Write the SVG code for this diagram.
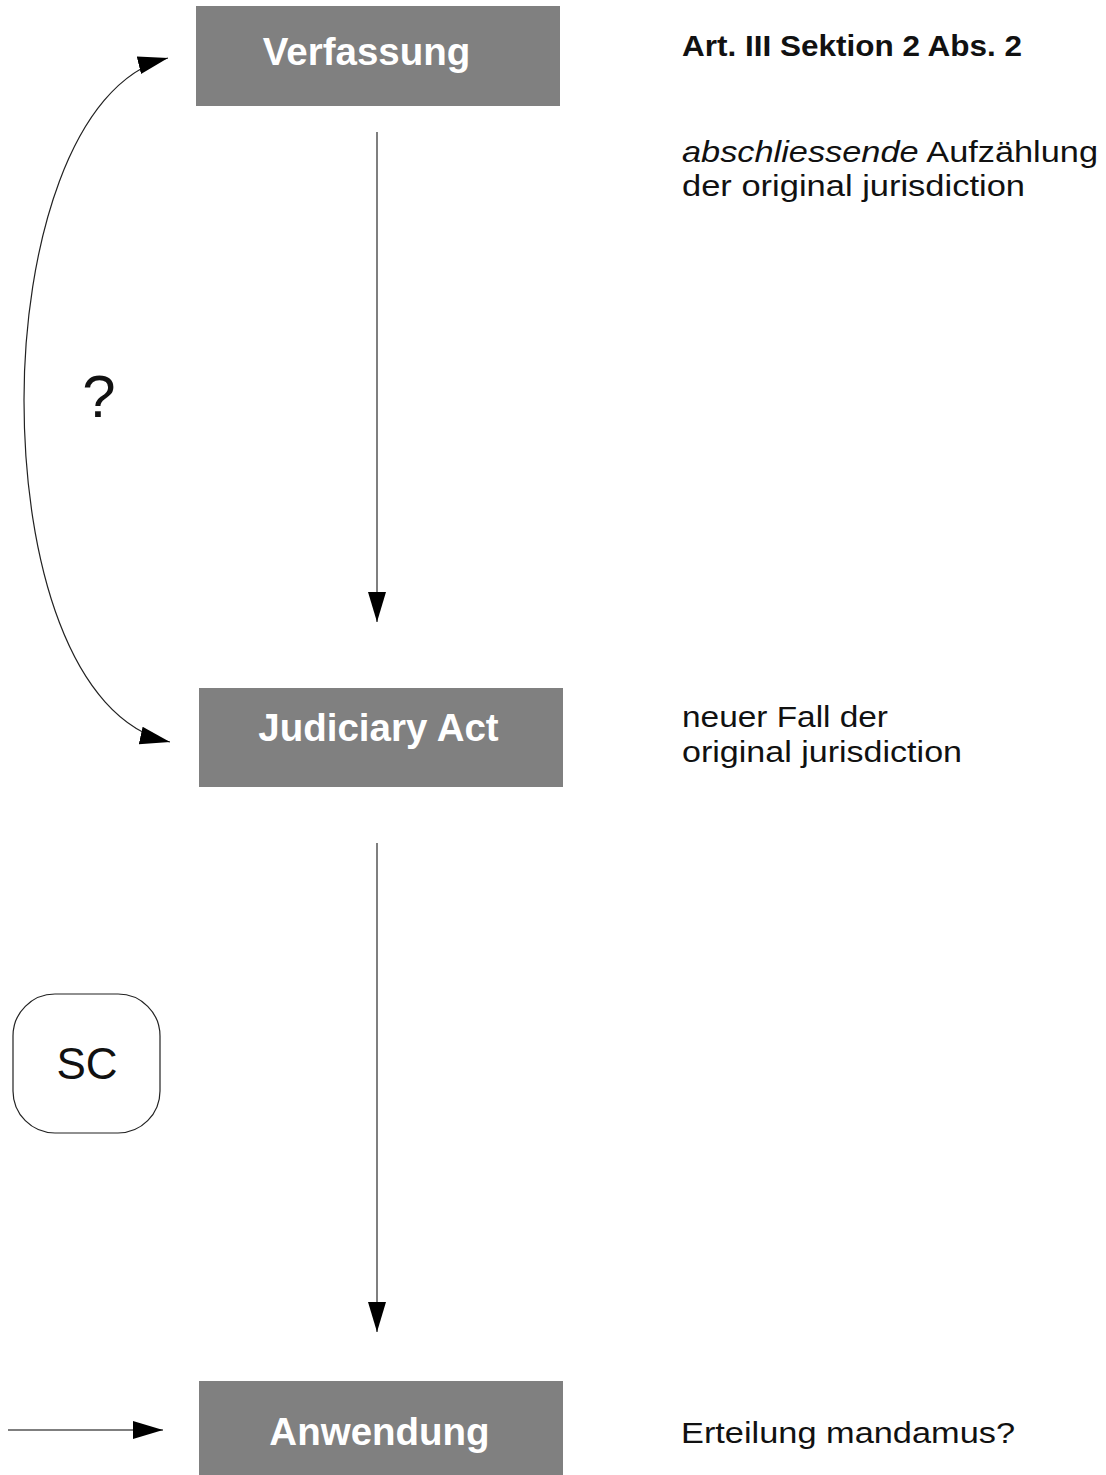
<svg xmlns="http://www.w3.org/2000/svg" width="1106" height="1475" viewBox="0 0 1106 1475">
<style>
.box{fill:#808080;}
.lbl{font-family:"Liberation Sans",Arial,sans-serif;font-weight:bold;font-size:38.5px;fill:#fff;text-anchor:middle;}
.note{font-family:"Liberation Sans",Arial,sans-serif;font-size:29px;fill:#111;}
.conn{fill:none;stroke:#222;stroke-width:1.2;}
.vline{fill:none;stroke:#555;stroke-width:1.5;}
</style>
<defs>
<marker id="ah" markerUnits="userSpaceOnUse" markerWidth="32" markerHeight="20" refX="30" refY="9" orient="auto-start-reverse">
<path d="M0,0 L30,9 L0,18 z" fill="#000"/>
</marker>
</defs>
<rect width="1106" height="1475" fill="#fff"/>
<g id="connectors">
<line class="vline" x1="377" y1="132" x2="377" y2="622" marker-end="url(#ah)"/>
<line class="vline" x1="377" y1="843" x2="377" y2="1332" marker-end="url(#ah)"/>
<path class="conn" d="M168,58 C70,82 24,250 24,400 C24,560 70,720 170,742" marker-start="url(#ah)" marker-end="url(#ah)"/>
<line class="vline" x1="8" y1="1430" x2="163" y2="1430" marker-end="url(#ah)"/>
</g>
<g id="verfassung">
<rect class="box" x="196" y="6" width="364" height="100"/>
<text class="lbl" x="366.5" y="65">Verfassung</text>
</g>
<g id="judiciary-act">
<rect class="box" x="199" y="688" width="364" height="99"/>
<text class="lbl" x="378.5" y="741">Judiciary Act</text>
</g>
<g id="anwendung">
<rect class="box" x="199" y="1381" width="364" height="94"/>
<text class="lbl" x="379.5" y="1445">Anwendung</text>
</g>
<g id="sc">
<rect x="13" y="994" width="147" height="139" rx="42" fill="#fff" stroke="#222" stroke-width="1.2"/>
<text x="87" y="1079" font-family="Liberation Sans,Arial,sans-serif" font-size="44" fill="#111" text-anchor="middle">SC</text>
</g>
<g id="question">
<text x="99" y="417" font-family="Liberation Sans,Arial,sans-serif" font-size="60" fill="#111" text-anchor="middle">?</text>
</g>
<g id="notes">
<text class="note" x="682" y="56" font-weight="bold" font-size="25" textLength="340" lengthAdjust="spacingAndGlyphs">Art. III Sektion 2 Abs. 2</text>
<text class="note" x="682" y="162" textLength="416" lengthAdjust="spacingAndGlyphs"><tspan font-style="italic">abschliessende</tspan> Aufzählung</text>
<text class="note" x="682" y="196" textLength="343" lengthAdjust="spacingAndGlyphs">der original jurisdiction</text>
<text class="note" x="682" y="727" textLength="206" lengthAdjust="spacingAndGlyphs">neuer Fall der</text>
<text class="note" x="682" y="762" textLength="280" lengthAdjust="spacingAndGlyphs">original jurisdiction</text>
<text class="note" x="681" y="1443" textLength="334" lengthAdjust="spacingAndGlyphs">Erteilung mandamus?</text>
</g>
</svg>
